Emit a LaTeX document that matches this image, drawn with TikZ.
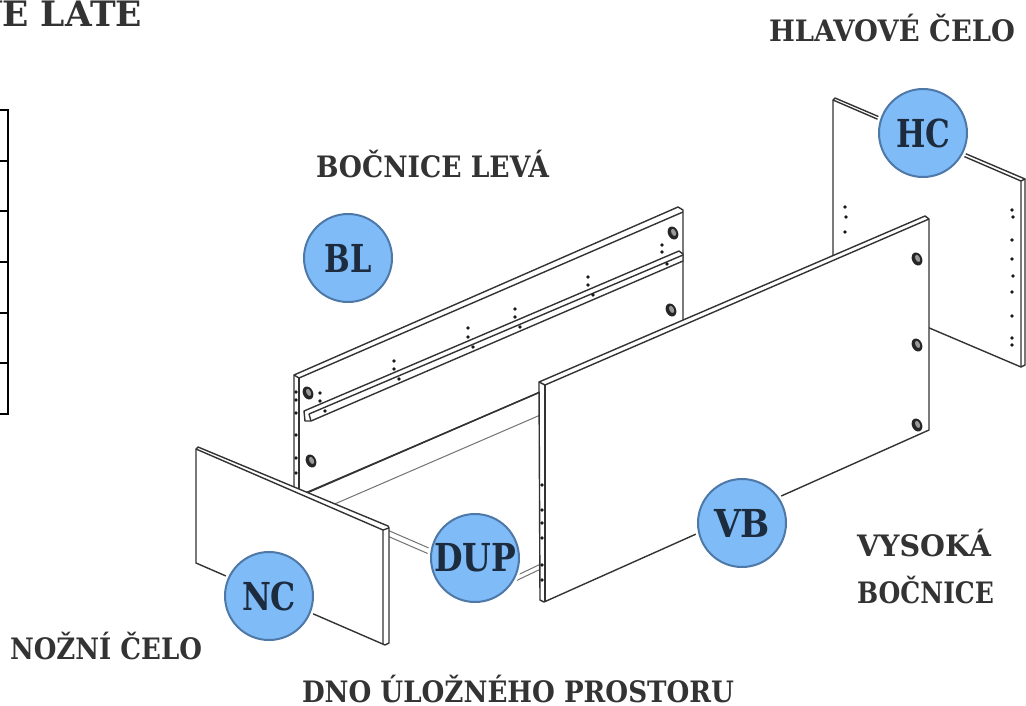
\documentclass[tikz,border=0pt]{standalone}
\usepackage{fontspec}
\usepackage{graphicx}
\setmainfont{DejaVu Serif}
\newfontfamily\labfont{DejaVu Serif Bold}
\newfontfamily\badgefont{DejaVu Serif Bold}
\newcommand{\fitlab}[3]{\resizebox{#1pt}{\height}{\fontsize{#2}{#2}\selectfont\labfont #3}}
\newcommand{\fitbadge}[2]{\resizebox{#1pt}{\height}{\fontsize{38.5}{38.5}\selectfont\badgefont #2}}
\definecolor{ink}{HTML}{333333}
\definecolor{line}{HTML}{333333}
\definecolor{badgefill}{HTML}{7FBBF6}
\definecolor{badgeedge}{HTML}{4D78A8}
\definecolor{badgeink}{HTML}{1C2B3E}
\tikzset{
  x=1pt,y=-1pt,
  lab/.style={anchor=base west,inner sep=0pt,outer sep=0pt,text=ink},
  panel/.style={draw=line,fill=white,line width=1.4pt,line join=round},
  edge/.style={draw=line,line width=1.4pt},
  thin edge/.style={draw=black!55,line width=1pt},
  badge/.style={circle,minimum size=88pt,inner sep=0pt,fill=badgefill,draw=badgeedge,line width=2pt,text=badgeink,preaction={draw=white,line width=7pt}},
  grid/.style={draw=black,line width=2pt},
  dot/.style={fill=black!90},
}
\newcommand{\bighole}[2]{%
  \fill[black!85,rotate around={25:(#1,#2)}] (#1,#2) ellipse (5 and 6.8);
  \fill[black!40,rotate around={25:(#1,#2)}] (#1+0.8,#2-0.3) ellipse (2.2 and 3.8);}
\newcommand{\holedots}[1]{\foreach \a/\b in {#1} {\fill[dot] (\a,\b) circle (1.8);}}
\begin{document}
\begin{tikzpicture}
\useasboundingbox (0,0) rectangle (1026,705);
\clip (0,0) rectangle (1026,705);
\fill[white] (0,0) rectangle (1026,705);

% clipped title and table at the left
\node[lab] (title) at (-24,26) {\fitlab{166}{35}{VE LATE}};
\draw[grid] (0,110) -- (8,110) -- (8,414) -- (0,414);
\foreach \r in {161,211,262,313,363} {\draw[grid] (0,\r) -- (8,\r);}

% left side panel BL
\path[panel] (294,375) -- (678,207) -- (683,210) -- (683,330) -- (300,496) -- (294,496) -- cycle;
\draw[edge] (299,378) -- (683,212);
\draw[edge] (299,378) -- (299,496);
\draw[edge] (294,375) -- (299,378);
\bighole{308}{393}\bighole{311}{461}\bighole{673}{233}\bighole{671}{310}
\holedots{296/392,296/400,296/413,296/435,296/458,296/473}
\holedots{320/393,320/401,325/411,394/361,394/369,399/379,468/328,468/337,473/347,515/309,515/317,520/327,588/277,588/285,593/295,662/245,662/252,667/264}
% rail
\path[panel] (304,411) -- (679,251) -- (683,254) -- (683,261) -- (311,421) -- (305,421) -- cycle;
\draw[edge] (309,414) -- (683,255);
\draw[edge] (309,414) -- (311,421);
\holedots{325/411,399/379,473/347,520/327,593/295,667/264}
% bottom panel edges
\draw[edge] (296,497) -- (545,390);
\draw[thin edge] (330,506) -- (545,413);
\draw[thin edge] (385,529) -- (445,555);
\draw[thin edge] (385,535) -- (445,561);
\draw[thin edge] (505,581) -- (545,562);
\draw[thin edge] (505,586) -- (545,567);

% head panel HC
\path[panel] (833,100) -- (835,98) -- (1025,179) -- (1025,365) -- (1021,367) -- (833,287) -- cycle;
\draw[edge] (833,100) -- (1021,181) -- (1021,367);
\draw[edge] (1021,181) -- (1025,179);
\holedots{845/207,846/217,845/232,1012/210,1013/217,1012/240,1012/259,1013/276,1012/292,1012/316,1012/338,1012/345}

% tall side VB
\path[panel] (539,382) -- (925,216) -- (929,219) -- (929,430) -- (544,602) -- (540,600) -- cycle;
\draw[edge] (545,385) -- (929,219);
\draw[edge] (545,385) -- (545,601);
\draw[edge] (539,382) -- (545,385);
\bighole{917}{259}\bighole{917}{345}\bighole{917}{425}
\holedots{542/485,542/510,542/523,542/538,542/565,542/580}

% foot panel NC
\path[panel] (196,449) -- (198,447) -- (388,526) -- (389,528) -- (389,643) -- (385,645) -- (196,563) -- cycle;
\draw[edge] (196,449) -- (383,530) -- (383,644);
\draw[edge] (383,530) -- (389,528);

% badges
\node[badge] (BL) at (348,258) {\fitbadge{47}{BL}};
\node[badge] (HC) at (923,133) {\fitbadge{54}{HC}};
\node[badge] (VB) at (742,523) {\fitbadge{56}{VB}};
\node[badge] (DUP) at (475,558) {\fitbadge{82}{DUP}};
\node[badge] (NC) at (269,596) {\fitbadge{54}{NC}};

% labels
\node[lab] (lhc) at (769,41) {\fitlab{246}{29.5}{HLAVOVÉ ČELO}};
\node[lab] (lbl) at (316,177) {\fitlab{233}{29.5}{BOČNICE LEVÁ}};
\node[lab] (lvb1) at (857,556) {\fitlab{134}{29.5}{VYSOKÁ}};
\node[lab] (lvb2) at (857,603) {\fitlab{137}{29.5}{BOČNICE}};
\node[lab] (lnc) at (10,659) {\fitlab{192}{29.5}{NOŽNÍ ČELO}};
\node[lab] (ldup) at (302,702) {\fitlab{432}{29.5}{DNO ÚLOŽNÉHO PROSTORU}};
\end{tikzpicture}
\end{document}
